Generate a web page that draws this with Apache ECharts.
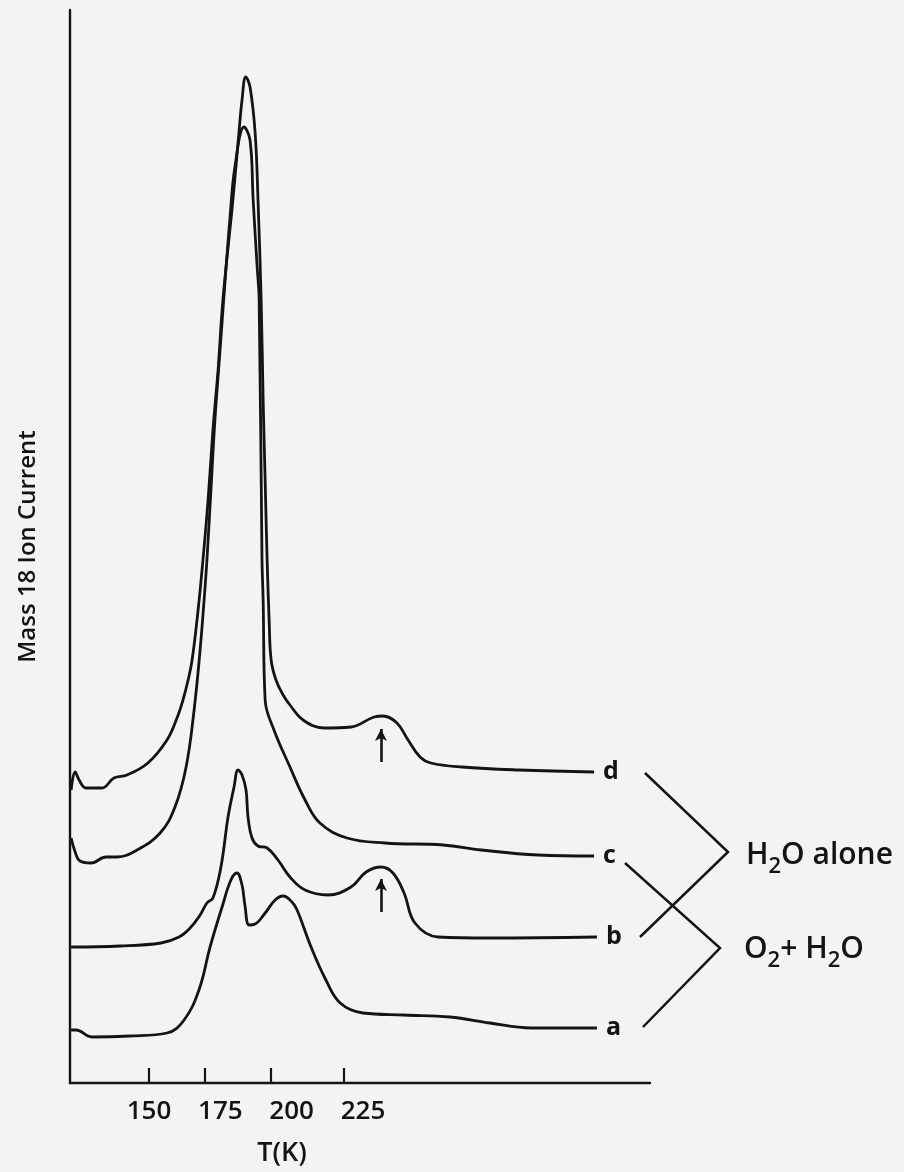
<!DOCTYPE html>
<html>
<head>
<meta charset="utf-8">
<script src="https://cdn.jsdelivr.net/npm/echarts@6/dist/echarts.min.js"></script>
<style>
  html, body { margin: 0; padding: 0; background: #f3f3f1; }
  #chart { width: 904px; height: 1172px; }
</style>
</head>
<body>
<div id="chart"></div>
<script>
// temperature (K) and mass 18 ion current (arbitrary units)
var dT = [122.7, 124.1, 125.5, 127.9, 133.5, 137.7, 142.3, 149.6, 156.3, 159.8, 161.9, 163.7, 165.1, 167.2, 168.9, 170.7, 172.4, 174.2, 175.9, 179.4, 181.5, 182.6, 183.9, 185.4, 187.2, 188.2, 189.3, 190.0, 190.7, 191.4, 192.1, 192.8, 194.5, 197.0, 199.4, 204.0, 211.3, 220.8, 228.9, 232.0, 236.9, 240.8, 245.0, 248.8, 259.7, 279.7, 306.0]
var dI = [29.3, 31.1, 30.3, 29.5, 29.5, 30.5, 30.8, 32.0, 34.3, 36.5, 38.3, 40.3, 42.3, 47.3, 52.3, 58.3, 65.3, 71.3, 78.3, 88.3, 95.0, 98.3, 100.6, 99.6, 95.0, 88.3, 78.3, 68.3, 60.3, 52.3, 46.3, 42.3, 40.3, 38.8, 37.8, 36.3, 35.5, 35.6, 36.6, 36.7, 36.0, 34.3, 32.6, 32.0, 31.6, 31.3, 31.1]

var cT = [122.7, 124.1, 125.8, 129.7, 134.9, 138.8, 145.8, 153.9, 159.1, 163.0, 165.8, 167.9, 169.3, 170.3, 171.7, 173.1, 174.9, 176.6, 178.4, 180.1, 183.3, 185.4, 186.5, 187.9, 188.6, 189.6, 190.0, 190.7, 193.8, 199.4, 204.7, 209.9, 219.4, 232.7, 253.1, 266.4, 286.4, 306.0]
var cI = [24.5, 23.1, 22.2, 22.0, 22.6, 22.6, 23.3, 25.0, 27.6, 31.6, 37.3, 43.3, 48.3, 52.3, 59.3, 66.3, 73.3, 80.0, 86.6, 91.6, 95.6, 94.3, 88.3, 81.6, 78.3, 52.3, 48.3, 38.3, 35.3, 31.6, 28.3, 26.0, 24.5, 24.0, 23.8, 23.3, 22.8, 22.7]

var bT = [122.7, 139.8, 154.2, 160.5, 164.4, 167.9, 170.3, 172.4, 175.2, 177.7, 179.8, 181.2, 182.6, 184.0, 184.7, 186.1, 188.2, 191.4, 195.2, 199.4, 204.7, 212.7, 220.8, 226.1, 231.3, 235.5, 239.4, 243.2, 251.3, 269.5, 307.0]
var bI = [13.6, 13.7, 14.0, 14.6, 15.5, 16.8, 18.0, 18.5, 21.6, 26.6, 29.6, 31.3, 30.8, 29.3, 26.6, 24.5, 23.7, 23.5, 22.3, 20.6, 19.3, 18.8, 19.6, 21.1, 21.6, 21.0, 19.0, 16.0, 14.6, 14.5, 14.6]

var aT = [122.7, 124.4, 130.0, 143.3, 156.3, 162.3, 167.5, 171.4, 175.6, 178.7, 180.8, 182.6, 183.6, 185.1, 187.2, 190.7, 194.2, 197.0, 200.1, 201.9, 206.8, 212.0, 217.0, 225.0, 239.4, 255.5, 269.5, 283.9, 307.0]
var aI = [5.3, 5.3, 4.6, 4.7, 5.0, 6.3, 9.3, 13.6, 17.6, 20.3, 21.0, 19.8, 17.8, 15.8, 15.9, 17.0, 18.3, 18.7, 18.1, 17.3, 13.6, 10.3, 8.0, 7.0, 6.8, 6.6, 6.0, 5.5, 5.5]

var tickLabels = [150, 175, 200, 225]
// tick marks as drawn on the original axis (not evenly spaced)
var tickMarks = [150, 169.6, 192.8, 218.3]

// upward arrows marking the ~230 K feature: [T, from, to]
var arrowD = [231.3, 32.1, 35.4]
var arrowB = [231.3, 17.1, 20.4]

var names = ['d', 'c', 'b', 'a']

function pairs(xs, ys) {
    var out = []
    for (var i = 0; i < xs.length; i++) out.push([xs[i], ys[i]])
    return out
}

var font = '"Open Sans", "Noto Sans", sans-serif'
var ink = '#141414'

function arrowLine(a) {
    return {
        silent: true,
        symbol: ['none', 'arrow'],
        symbolSize: [9, 12],
        label: { show: false },
        lineStyle: { color: ink, width: 2.6, type: 'solid' },
        data: [[{ coord: [a[0], a[1]] }, { coord: [a[0], a[2]] }]]
    }
}

var traces = [pairs(dT, dI), pairs(cT, cI), pairs(bT, bI), pairs(aT, aI)]
var series = []
for (var i = 0; i < traces.length; i++) {
    var s = {
        name: names[i],
        type: 'line',
        data: traces[i],
        smooth: 0.4,
        symbol: 'none',
        lineStyle: { color: ink, width: 2.8 },
        endLabel: {
            show: true,
            formatter: names[i],
            color: ink,
            fontFamily: font,
            fontWeight: 'bold',
            fontSize: 25,
            distance: 9
        },
        animation: false
    }
    if (i === 0) s.markLine = arrowLine(arrowD)
    if (i === 2) s.markLine = arrowLine(arrowB)
    series.push(s)
}

var chart = echarts.init(document.getElementById('chart'))
chart.setOption({
    backgroundColor: '#f3f3f1',
    animation: false,
    grid: { left: 70, top: 10, width: 580, height: 1073 },
    xAxis: {
        type: 'value',
        min: 122.3,
        max: 325.6,
        axisLine: { show: true, lineStyle: { color: ink, width: 2.4 } },
        axisTick: {
            show: true,
            inside: true,
            length: 15,
            customValues: tickMarks,
            lineStyle: { color: ink, width: 2.2 }
        },
        axisLabel: {
            customValues: tickLabels,
            color: ink,
            fontFamily: font,
            fontWeight: 600,
            fontSize: 26,
            margin: 16
        },
        splitLine: { show: false }
    },
    yAxis: {
        type: 'value',
        min: 0,
        max: 107.3,
        name: 'Mass 18 Ion Current',
        nameLocation: 'middle',
        nameRotate: 90,
        nameGap: 30,
        nameTextStyle: { color: ink, fontFamily: font, fontWeight: 600, fontSize: 24 },
        axisLine: { show: true, lineStyle: { color: ink, width: 2.4 } },
        axisTick: { show: false },
        axisLabel: { show: false },
        splitLine: { show: false }
    },
    graphic: [
        {
            type: 'polyline',
            shape: { points: [[645, 773], [728, 852], [640, 937]] },
            style: { stroke: ink, lineWidth: 2.5, fill: null }
        },
        {
            type: 'polyline',
            shape: { points: [[625, 863], [720, 948], [643, 1027]] },
            style: { stroke: ink, lineWidth: 2.5, fill: null }
        },
        {
            type: 'text', left: 746, top: 840,
            style: {
                text: '{n|H}{s|2}{n|O alone}',
                rich: {
                    n: { fontSize: 30, fontFamily: font, fontWeight: 600, fill: ink },
                    s: { fontSize: 22, fontFamily: font, fontWeight: 600, fill: ink, padding: [24, 0, 0, 0] }
                }
            }
        },
        {
            type: 'text', left: 744, top: 934,
            style: {
                text: '{n|O}{s|2}{n|+ H}{s|2}{n|O}',
                rich: {
                    n: { fontSize: 30, fontFamily: font, fontWeight: 600, fill: ink },
                    s: { fontSize: 22, fontFamily: font, fontWeight: 600, fill: ink, padding: [24, 0, 0, 0] }
                }
            }
        },
        {
            type: 'text', x: 282, y: 1153,
            style: { text: 'T(K)', fontSize: 27, fontFamily: font, fontWeight: 600, fill: ink, align: 'center', verticalAlign: 'middle' }
        }
    ],
    series: series
})
</script>
</body>
</html>
